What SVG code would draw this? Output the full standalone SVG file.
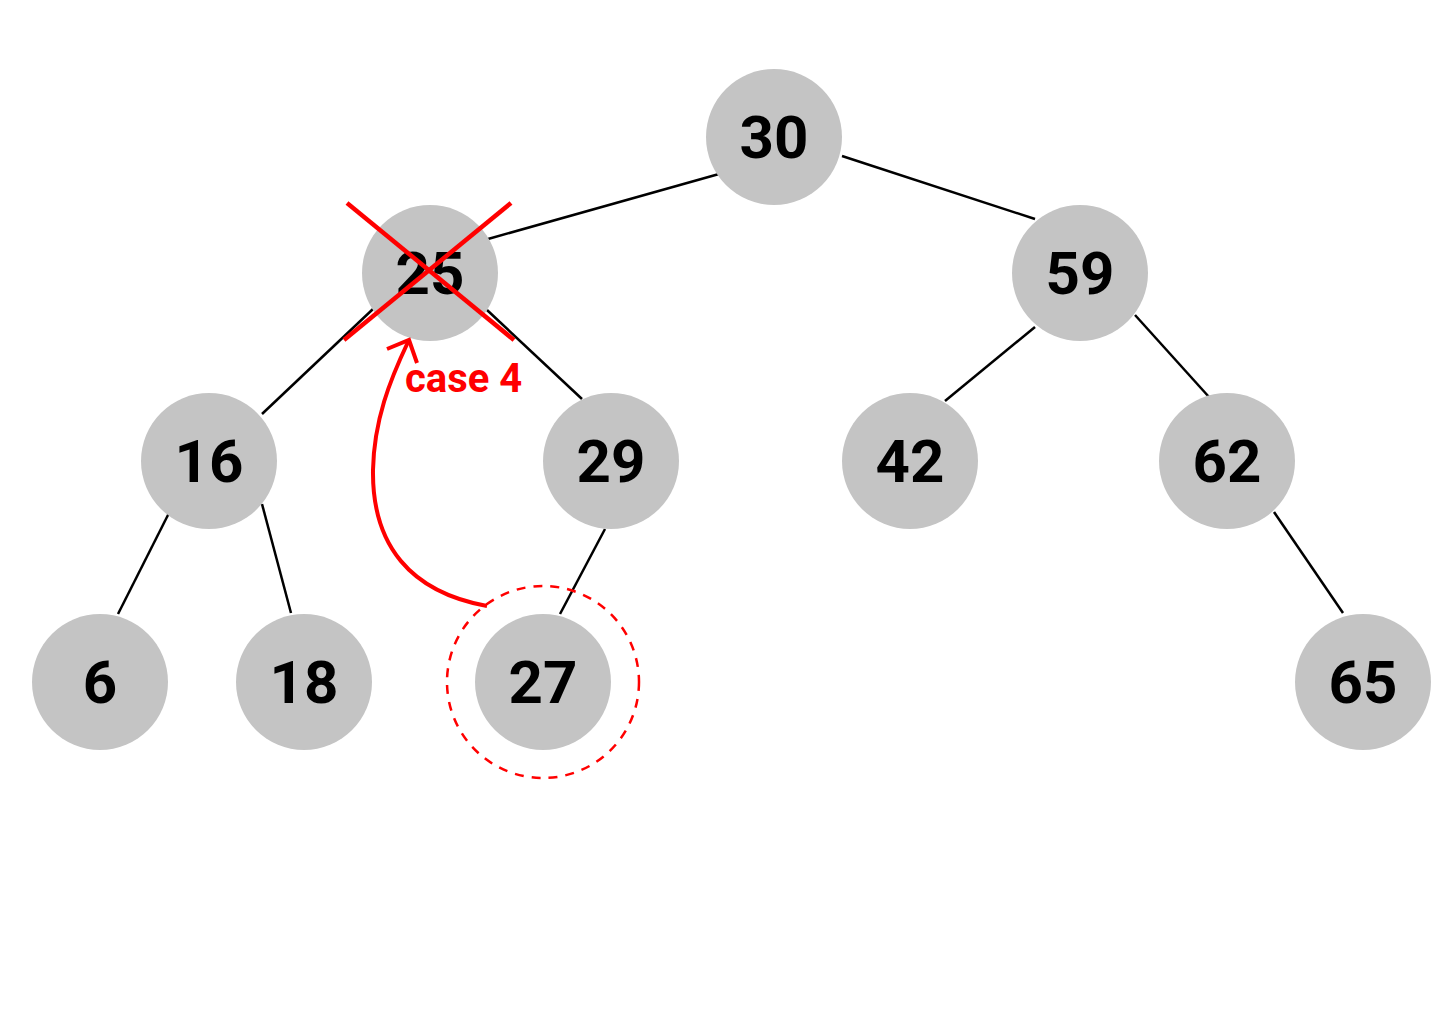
<svg xmlns="http://www.w3.org/2000/svg" width="1440" height="1024" viewBox="0 0 1440 1024">
<style>
.n circle{fill:#c4c4c4}
.n text{font-family:Roboto,"Liberation Sans",sans-serif;font-weight:bold;font-size:60px;text-anchor:middle;fill:#000}
.e line{stroke:#000;stroke-width:2.5}
.r{stroke:#f00;fill:none}
</style>
<rect width="1440" height="1024" fill="#fff"/>
<g id="edges" class="e">
<line x1="719" y1="174" x2="488" y2="239"/>
<line x1="842" y1="156" x2="1035" y2="219"/>
<line x1="373" y1="309" x2="262" y2="414"/>
<line x1="487" y1="310" x2="582" y2="399"/>
<line x1="1035" y1="327" x2="945" y2="401"/>
<line x1="1135" y1="315" x2="1209" y2="397"/>
<line x1="169" y1="513" x2="118" y2="614"/>
<line x1="262" y1="504" x2="291" y2="613"/>
<line x1="605" y1="529" x2="560" y2="614"/>
<line x1="1274" y1="512" x2="1343" y2="613"/>
</g>
<g id="n30" class="n"><circle cx="774" cy="137" r="68"/><text x="774" y="158">30</text></g>
<g id="n25" class="n"><circle cx="430" cy="273" r="68"/><text x="430" y="294">25</text></g>
<g id="n59" class="n"><circle cx="1080" cy="273" r="68"/><text x="1080" y="294">59</text></g>
<g id="n16" class="n"><circle cx="209" cy="461" r="68"/><text x="209" y="482">16</text></g>
<g id="n29" class="n"><circle cx="611" cy="461" r="68"/><text x="611" y="482">29</text></g>
<g id="n42" class="n"><circle cx="910" cy="461" r="68"/><text x="910" y="482">42</text></g>
<g id="n62" class="n"><circle cx="1227" cy="461" r="68"/><text x="1227" y="482">62</text></g>
<g id="n6" class="n"><circle cx="100" cy="682" r="68"/><text x="100" y="703">6</text></g>
<g id="n18" class="n"><circle cx="304" cy="682" r="68"/><text x="304" y="703">18</text></g>
<g id="n27" class="n"><circle cx="543" cy="682" r="68"/><text x="543" y="703">27</text></g>
<g id="n65" class="n"><circle cx="1363" cy="682" r="68"/><text x="1363" y="703">65</text></g>
<g id="annotation">
<line class="r" x1="347" y1="203" x2="514" y2="340" stroke-width="4.5"/>
<line class="r" x1="511" y1="203" x2="344" y2="340" stroke-width="4.5"/>
<circle class="r" cx="543" cy="682" r="96" stroke-width="2.5" stroke-dasharray="9 8"/>
<path class="r" stroke-width="4" d="M487,606 C410,592 372,545 373,470 C374,420 390,380 408,342"/>
<path class="r" stroke-width="4" d="M387,349 L409,340 L417,363"/>
<text x="405" y="392" font-family="Roboto,'Liberation Sans',sans-serif" font-weight="bold" font-size="40" fill="#f00">case 4</text>
</g>
</svg>
